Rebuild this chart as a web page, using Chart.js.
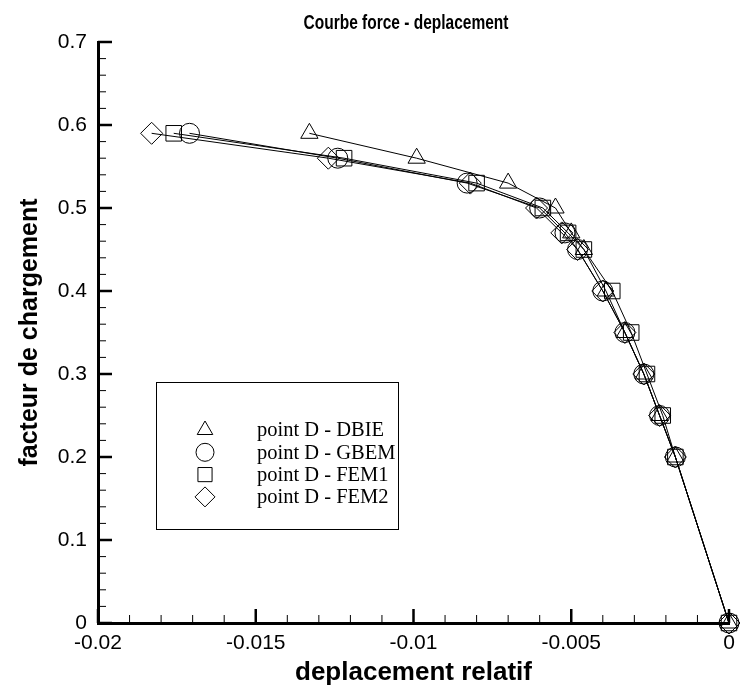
<!DOCTYPE html>
<html><head><meta charset="utf-8">
<script src="https://cdn.jsdelivr.net/npm/chart.js@4/dist/chart.umd.min.js"></script>
<style>html,body{margin:0;padding:0;background:#fff;}#wrap{width:741px;height:694px;position:relative;}</style>
</head><body><div id="wrap"><canvas id="c"></canvas></div>
<script>
const chartTitle = 'Courbe force - deplacement';
const xAxisTitle = 'deplacement relatif';
const yAxisTitle = 'facteur de chargement';
const seriesNames = ['point D - DBIE', 'point D - GBEM', 'point D - FEM1', 'point D - FEM2'];
const loadFactor = [0.59, 0.56, 0.53, 0.50, 0.47, 0.45, 0.40, 0.35, 0.30, 0.25, 0.20, 0];
const dispDBIE = [-0.0133, -0.0099, -0.0070, -0.0055, -0.0050, -0.0046, -0.0039, -0.0033, -0.0027, -0.0022, -0.0017, 0];
const dispGBEM = [-0.0171, -0.0124, -0.0083, -0.0060, -0.0052, -0.0048, -0.0040, -0.0033, -0.0027, -0.0022, -0.0017, 0];
const dispFEM1 = [-0.0176, -0.0122, -0.0080, -0.0059, -0.0051, -0.0046, -0.0037, -0.0031, -0.0026, -0.0021, -0.0017, 0];
const dispFEM2 = [-0.0183, -0.0127, -0.0082, -0.0061, -0.0053, -0.0048, -0.0040, -0.0033, -0.0027, -0.0022, -0.0017, 0];
const xTickValues = [-0.02, -0.015, -0.01, -0.005, 0];
const xTickLabels = ['-0.02', '-0.015', '-0.01', '-0.005', '0'];
const yTickValues = [0, 0.1, 0.2, 0.3, 0.4, 0.5, 0.6, 0.7];
const yTickLabels = ['0', '0.1', '0.2', '0.3', '0.4', '0.5', '0.6', '0.7'];
const xMinorStep = 0.001;
const yMinorStep = 0.02;

const SANS = '"Liberation Sans", Arial, Helvetica, sans-serif';
const SERIF = '"Liberation Serif", "Times New Roman", serif';

const styles = [
  {pointStyle: 'triangle', radius: 10},
  {pointStyle: 'circle', radius: 10},
  {pointStyle: 'rect', radius: 11},
  {pointStyle: 'rectRot', radius: 11}
];
const dispSeries = [dispDBIE, dispGBEM, dispFEM1, dispFEM2];

const datasets = dispSeries.map((xs, i) => ({
  label: seriesNames[i],
  data: xs.map((v, k) => ({x: v, y: loadFactor[k]})),
  showLine: true,
  borderColor: '#000',
  borderWidth: 1,
  backgroundColor: 'rgba(0,0,0,0)',
  pointStyle: styles[i].pointStyle,
  pointRadius: styles[i].radius,
  pointHoverRadius: styles[i].radius,
  pointBorderColor: '#000',
  pointBackgroundColor: 'rgba(0,0,0,0)',
  pointBorderWidth: 1,
  clip: false
}));

function drawShape(ctx, style, radius, x, y) {
  if (Chart.helpers && Chart.helpers.drawPoint) {
    Chart.helpers.drawPoint(ctx, {pointStyle: style, radius: radius, borderWidth: 1, rotation: 0}, x, y);
    return;
  }
  ctx.beginPath();
  if (style === 'circle') ctx.arc(x, y, radius, 0, Math.PI * 2);
  else if (style === 'rect') { const s = radius * Math.SQRT1_2; ctx.rect(x - s, y - s, 2 * s, 2 * s); }
  else if (style === 'rectRot') { ctx.moveTo(x, y - radius); ctx.lineTo(x + radius, y); ctx.lineTo(x, y + radius); ctx.lineTo(x - radius, y); ctx.closePath(); }
  else if (style === 'triangle') {
    for (let k = 0; k < 3; k++) { const a = k * 2 * Math.PI / 3; const px = x + Math.sin(a) * radius, py = y - Math.cos(a) * radius; k ? ctx.lineTo(px, py) : ctx.moveTo(px, py); }
    ctx.closePath();
  }
  ctx.stroke();
}

const decor = {
  id: 'decor',
  afterDraw(chart) {
    const {ctx, chartArea: a, scales: {x, y}} = chart;
    ctx.save();
    ctx.strokeStyle = '#000';
    ctx.fillStyle = 'rgba(0,0,0,0)';
    const nx = Math.round((x.max - x.min) / xMinorStep);
    for (let i = 0; i <= nx; i++) {
      const v = x.min + i * xMinorStep;
      const px = x.getPixelForValue(v);
      const major = i % 5 === 0;
      ctx.lineWidth = major ? 2.5 : 1;
      ctx.beginPath();
      ctx.moveTo(px, a.bottom);
      ctx.lineTo(px, a.bottom - (major ? 14 : 8));
      ctx.stroke();
    }
    const ny = Math.round((y.max - y.min) / yMinorStep);
    for (let i = 0; i <= ny; i++) {
      const v = y.min + i * yMinorStep;
      const py = y.getPixelForValue(v);
      const major = i % 5 === 0;
      ctx.lineWidth = major ? 2.5 : 1;
      ctx.beginPath();
      ctx.moveTo(a.left, py);
      ctx.lineTo(a.left + (major ? 14 : 8), py);
      ctx.stroke();
    }
    // title
    ctx.save();
    ctx.fillStyle = '#000';
    ctx.font = 'bold 15.5px ' + SANS;
    ctx.textAlign = 'center';
    ctx.textBaseline = 'middle';
    ctx.translate(406, 24);
    ctx.scale(1, 1.25);
    ctx.fillText(chartTitle, 0, 0);
    ctx.restore();
    // legend box
    ctx.lineWidth = 1;
    ctx.strokeRect(156.5, 382.5, 242, 147);
    ctx.font = '20.5px ' + SERIF;
    ctx.fillStyle = '#000';
    ctx.textBaseline = 'middle';
    ctx.textAlign = 'left';
    chart.data.datasets.forEach((ds, i) => {
      const ry = 431 + i * 22.3;
      ctx.save();
      ctx.fillStyle = 'rgba(0,0,0,0)';
      ctx.lineWidth = 1;
      drawShape(ctx, ds.pointStyle, ds.pointRadius - 1, 205, ry - 1);
      ctx.restore();
      ctx.fillText(ds.label, 257, ry);
    });
    ctx.restore();
  }
};

new Chart(document.getElementById('c'), {
  type: 'scatter',
  data: {datasets},
  plugins: [decor],
  options: {
    responsive: true,
    maintainAspectRatio: false,
    animation: false,
    events: [],
    layout: {padding: {top: 42, right: 8, bottom: 0, left: 0}},
    plugins: {
      legend: {display: false},
      tooltip: {enabled: false},
      title: {display: false}
    },
    scales: {
      x: {
        type: 'linear', min: -0.02, max: 0,
        afterBuildTicks: s => { s.ticks = xTickValues.map(v => ({value: v})); },
        afterFit: s => { s.height = 71; s.paddingRight = 0; s.paddingLeft = 0; },
        grid: {display: false, drawTicks: false},
        border: {display: true, width: 3, color: '#000'},
        ticks: {
          color: '#000', padding: 8, maxRotation: 0, autoSkip: false,
          font: {family: SANS, size: 21},
          callback: (v, i) => xTickLabels[i]
        },
        title: {display: true, text: xAxisTitle, color: '#000', font: {family: SANS, size: 26, weight: 'bold'}, padding: {top: 0, bottom: 6}}
      },
      y: {
        type: 'linear', min: 0, max: 0.7,
        afterBuildTicks: s => { s.ticks = yTickValues.map(v => ({value: v})); },
        afterFit: s => { s.width = 98; },
        grid: {display: false, drawTicks: false},
        border: {display: true, width: 3, color: '#000'},
        ticks: {
          color: '#000', padding: 11, autoSkip: false,
          font: {family: SANS, size: 21},
          callback: (v, i) => yTickLabels[i]
        },
        title: {display: true, text: yAxisTitle, color: '#000', font: {family: SANS, size: 25, weight: 'bold'}, padding: {top: 15, bottom: 0}}
      }
    }
  }
});
</script>
</body></html>
